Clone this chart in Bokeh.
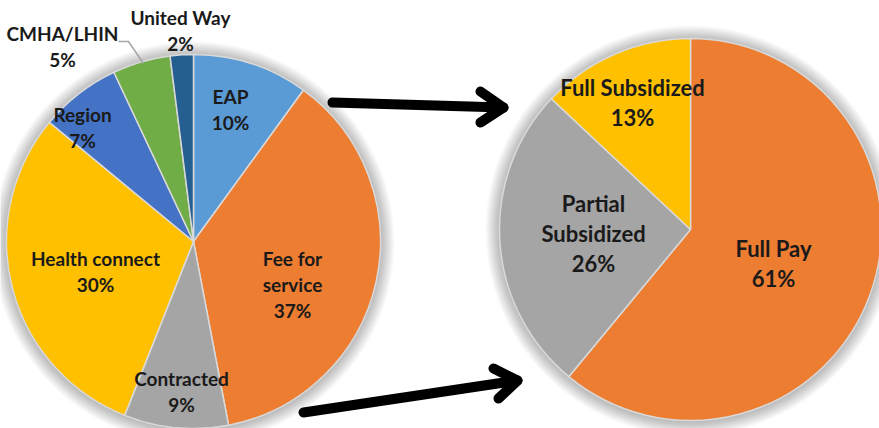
import math
from bokeh.plotting import figure
from bokeh.models import Range1d, ColumnDataSource
from bokeh.core.properties import value
from bokeh.embed import file_html
from bokeh.resources import INLINE

# ---- data ----
left_labels = ["EAP", "Fee for service", "Contracted", "Health connect", "Region", "CMHA/LHIN", "United Way"]
left_values = [10, 37, 9, 30, 7, 5, 2]
left_colors = ["#5B9BD5", "#ED7D31", "#A5A5A5", "#FFC000", "#4472C4", "#70AD47", "#255E91"]

right_labels = ["Full Pay", "Partial Subsidized", "Full Subsidized"]
right_values = [61, 26, 13]
right_colors = ["#ED7D31", "#A5A5A5", "#FFC000"]

# label text lines (name split as in the picture)
left_label_lines = [["EAP"], ["Fee for", "service"], ["Contracted"], ["Health connect"],
                    ["Region"], ["CMHA/LHIN"], ["United Way"]]
right_label_lines = [["Full Pay"], ["Partial", "Subsidized"], ["Full Subsidized"]]

# ---- layout (page pixel coordinates) ----
W, H = 879, 428
LEFT_C, LEFT_R = (193, 241), 187
RIGHT_C, RIGHT_R = (690, 229), 191
left_label_pos = [(230, 109), (292, 284), (181, 391), (95, 271), (82, 127), (62, 46), (180, 30)]
right_label_pos = [(773, 263), (593, 233), (632, 102)]
LEFT_SPACING, RIGHT_SPACING = 26, 30
LEFT_FS, RIGHT_FS = "19px", "22px"
arrow_top = [(332, 102), (503, 107)]
arrow_top_head = [(480, 91), (503, 107), (480, 122)]
arrow_bot = [(303, 412), (517, 380)]
arrow_bot_head = [(493, 368), (517, 380), (498, 398)]
leader = [(118, 41), (128, 41), (143, 63)]


def Y(py):
    return H - py


p = figure(width=W, height=H, x_range=Range1d(0, W), y_range=Range1d(0, H),
           output_backend="svg", toolbar_location=None, x_axis_type=None, y_axis_type=None,
           min_border=0, outline_line_color=None)
p.grid.visible = False
p.background_fill_color = "white"
p.border_fill_color = "white"


def pie(center, r, values, colors, labels, lines, pos, spacing, fs):
    cx, cy = center
    # soft shadow
    for k in range(1, 15):
        p.circle(x=[cx], y=[Y(cy) - 1], radius=r + k, fill_color="black", fill_alpha=0.018,
                 line_color=None)
    total = float(sum(values))
    starts, ends = [], []
    acc = 0.0
    for v in values:
        starts.append(math.pi / 2 - 2 * math.pi * acc / total)
        acc += v
        ends.append(math.pi / 2 - 2 * math.pi * acc / total)
    src = ColumnDataSource(dict(x=[cx] * len(values), y=[Y(cy)] * len(values),
                                start=starts, end=ends, color=colors, label=labels))
    p.wedge(x="x", y="y", radius=r, start_angle="start", end_angle="end", direction="clock",
            fill_color="color", line_color="#d9d9d9", line_width=1.5, source=src)
    tx, ty, tt = [], [], []
    for lab_lines, v, (lx, ly) in zip(lines, values, pos):
        all_lines = lab_lines + ["%d%%" % v]
        n = len(all_lines)
        for i, t in enumerate(all_lines):
            tx.append(lx)
            ty.append(Y(ly - (n - 1) / 2 * spacing + i * spacing))
            tt.append(t)
    p.text(x=tx, y=ty, text=tt, text_align="center", text_baseline="middle",
           text_font=value("Lato"), text_font_style="bold", text_font_size=fs,
           text_color="#1a1a1a")


pie(LEFT_C, LEFT_R, left_values, left_colors, left_labels, left_label_lines,
    left_label_pos, LEFT_SPACING, LEFT_FS)
pie(RIGHT_C, RIGHT_R, right_values, right_colors, right_labels, right_label_lines,
    right_label_pos, RIGHT_SPACING, RIGHT_FS)

# leader line for CMHA/LHIN
p.line(x=[a for a, b in leader], y=[Y(b) for a, b in leader], line_color="#a6a6a6", line_width=1.5)

# arrows
for pts in (arrow_top, arrow_top_head, arrow_bot, arrow_bot_head):
    p.line(x=[a for a, b in pts], y=[Y(b) for a, b in pts], line_color="black", line_width=10,
           line_cap="round", line_join="round")

open("out.html", "w").write(file_html(p, INLINE))
